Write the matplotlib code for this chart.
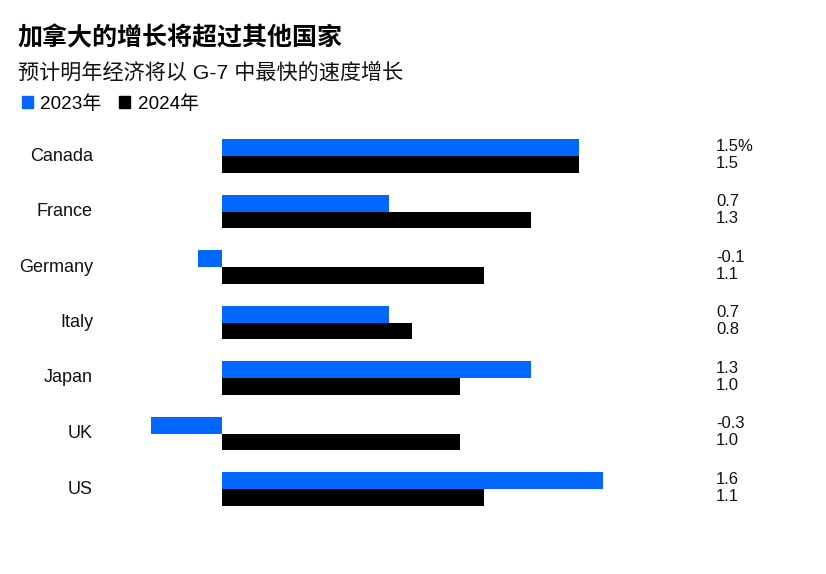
import numpy as np
import matplotlib
matplotlib.use('Agg')
import matplotlib.pyplot as plt
from matplotlib.patches import Patch
from matplotlib.transforms import blended_transform_factory

countries = ['Canada', 'France', 'Germany', 'Italy', 'Japan', 'UK', 'US']
growth_2023 = [1.5, 0.7, -0.1, 0.7, 1.3, -0.3, 1.6]
growth_2024 = [1.5, 1.3, 1.1, 0.8, 1.0, 1.0, 1.1]
labels_2023 = ['1.5%', '0.7', '-0.1', '0.7', '1.3', '-0.3', '1.6']
labels_2024 = ['1.5', '1.3', '1.1', '0.8', '1.0', '1.0', '1.1']

title = '加拿大的增长将超过其他国家'
subtitle = '预计明年经济将以 G-7 中最快的速度增长'
series_names = ['2023年', '2024年']

blue = '#0068ff'
black = '#000000'
fonts = ['Liberation Sans', 'Noto Sans CJK SC', 'DejaVu Sans']
plt.rcParams['font.family'] = fonts

W, H = 826, 574
fig = plt.figure(figsize=(W / 100, H / 100), dpi=100)

# axes placed in pixel terms: zero at x=222, 238 px per 1 pt
ax_l, ax_r, ax_t, ax_b = 130, 700, 128, 517
ax = fig.add_axes([ax_l / W, 1 - ax_b / H, (ax_r - ax_l) / W, (ax_b - ax_t) / H])
ax.set_xlim((ax_l - 222) / 238, (ax_r - 222) / 238)
ax.set_ylim((ax_b - 156) / 55.5, (ax_t - 156) / 55.5)
ax.axis('off')

y = np.arange(len(countries))
h = 0.305
ax.barh(y - h / 2, growth_2023, height=h, color=blue)
ax.barh(y + h / 2, growth_2024, height=h, color=black)

tr = blended_transform_factory(fig.transFigure, ax.transData)
for i, c in enumerate(countries):
    fig.text(93 / W, y[i], c, transform=tr, ha='right', va='center', fontsize=13, color='#111111')
    fig.text(716 / W, y[i] - h / 2 - 0.02, labels_2023[i], transform=tr, ha='left', va='center',
             fontsize=12, color='#111111')
    fig.text(716 / W, y[i] + h / 2 - 0.02, labels_2024[i], transform=tr, ha='left', va='center',
             fontsize=12, color='#111111')

fig.text(17 / W, 1 - 38 / H, title, ha='left', va='center', fontsize=18, fontweight='bold', color='#000000')
fig.text(18 / W, 1 - 72 / H, subtitle, ha='left', va='center', fontsize=15.2, color='#111111')

handles = [Patch(color=blue), Patch(color=black)]
fig.legend(handles, series_names, loc='center left', bbox_to_anchor=(14 / W, 1 - 104 / H),
           ncol=2, frameon=False, handlelength=0.6, handleheight=0.6, handletextpad=0.4,
           columnspacing=0.9, fontsize=13.6, borderaxespad=0)

fig.savefig('out.png', dpi=100, facecolor='white')
